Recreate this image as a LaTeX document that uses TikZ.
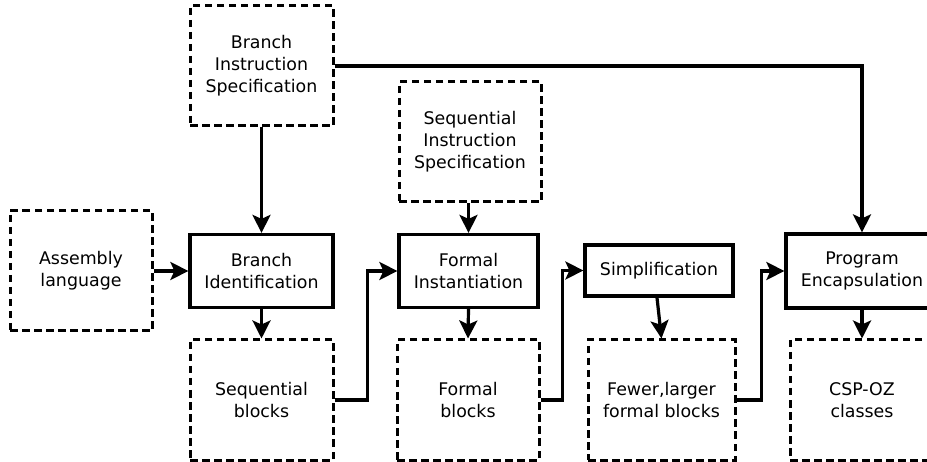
\documentclass[tikz,border=0pt]{standalone}
\usepackage{fontspec}
\setmainfont{DejaVu Sans}
\usetikzlibrary{arrows.meta}
\begin{document}
\begin{tikzpicture}[x=1pt,y=-1pt,
  every node/.style={align=center, font=\fontsize{17.4}{22}\selectfont, inner sep=0pt},
  databox/.style={draw, line width=3pt, dash pattern=on 7.5pt off 4.5pt},
  procbox/.style={draw, line width=3.2pt},
  flow/.style={line width=3.2pt, -{Stealth[length=18pt,width=18pt,inset=4pt]}}
]
\clip (0,0) rectangle (927,462);
\fill[white] (0,0) rectangle (927,462);

% inputs and specifications
\node[databox, minimum width=143pt, minimum height=120pt] (bis) at (261.5,66) {Branch\\Instruction\\Specification};
\node[databox, minimum width=142pt, minimum height=120pt] (asm) at (81,271) {Assembly\\language};
\node[databox, minimum width=142pt, minimum height=120pt] (sis) at (470,142) {Sequential\\Instruction\\Specification};

% processing steps
\node[procbox, minimum width=143pt, minimum height=73pt] (bid) at (261.5,271) {Branch\\Identification};
\node[procbox, minimum width=139pt, minimum height=73pt] (fin) at (468.5,271) {Formal\\Instantiation};
\node[procbox, minimum width=148pt, minimum height=51pt] (sim) at (659,270.5) {Simplification};
\node[procbox, minimum width=152pt, minimum height=74pt] (enc) at (862,271) {Program\\Encapsulation};

% intermediate and final products
\node[databox, minimum width=143pt, minimum height=120pt] (seq) at (261.5,400) {Sequential\\blocks};
\node[databox, minimum width=142pt, minimum height=120pt] (fbl) at (468,400) {Formal\\blocks};
\node[databox, minimum width=147pt, minimum height=120pt] (few) at (661.5,400) {Fewer,larger\\formal blocks};
\node[databox, minimum width=144pt, minimum height=120pt] (csp) at (862,400) {CSP-OZ\\classes};

% connectors
\draw[flow] (bis.south) -- (bid.north);
\draw[flow] (bis.east) -| (enc.north);
\draw[flow] (asm.east) -- (bid.west);
\draw[flow] (bid.south) -- (seq.north);
\draw[flow] (fin.north |- sis.south) -- (fin.north);
\draw[flow] (fin.south) -- (fbl.north);
\draw[flow] ([xshift=-2pt]sim.south) -- (few.north);
\draw[flow] (enc.south) -- (csp.north);

\draw[flow] (seq.east) -- ++(33,0) |- (fin.west);
\draw[flow] (fbl.east) -- ++(22,0) |- (sim.west);
\draw[flow] (few.east) -- ++(25,0) |- (enc.west);
\end{tikzpicture}
\end{document}
